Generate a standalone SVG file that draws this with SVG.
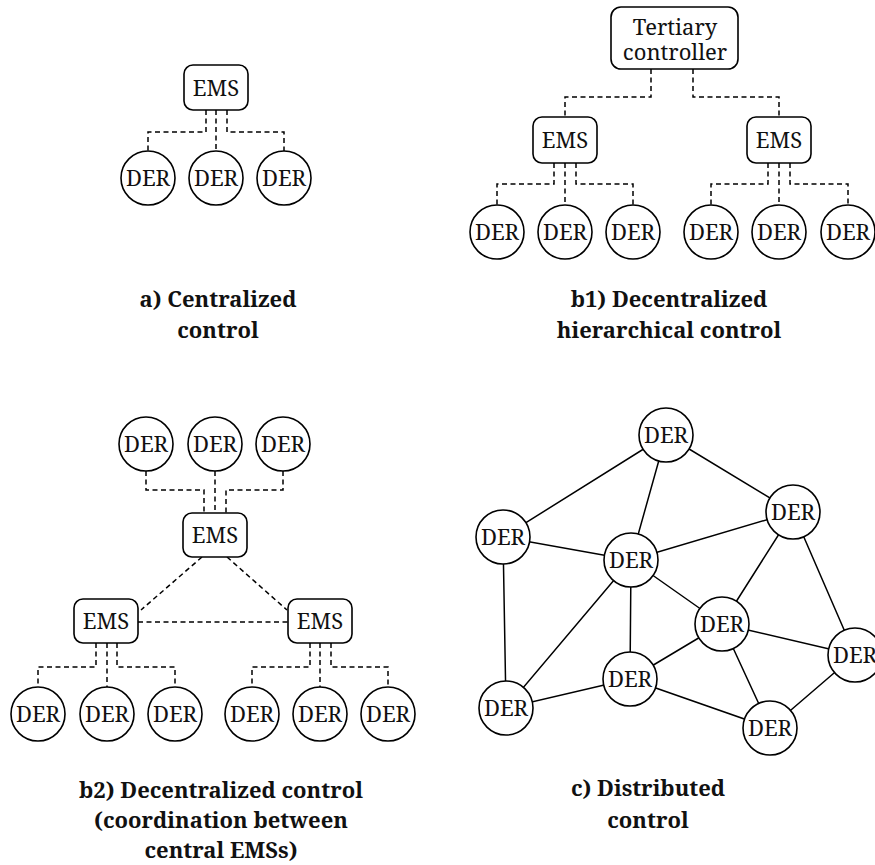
<svg xmlns="http://www.w3.org/2000/svg" width="875" height="865" viewBox="0 0 875 865">
  <style>
    .node rect, .node circle { fill: #fff; stroke: #000; stroke-width: 1.6; }
    .node text { font-family: "Noto Serif", "DejaVu Serif Condensed", "DejaVu Serif", serif; font-size: 22px; fill: #111; text-anchor: middle; }
    .dash { fill: none; stroke: #000; stroke-width: 1.5; stroke-dasharray: 5 3.5; }
    .solid { fill: none; stroke: #000; stroke-width: 1.5; }
    .caption { font-family: "Noto Serif", "DejaVu Serif Condensed", "DejaVu Serif", serif; font-size: 22px; font-weight: bold; fill: #111; text-anchor: middle; }
  </style>
  <rect width="875" height="865" fill="#fff"/>

  <!-- connectors -->
  <g id="connectors">
    <!-- a) centralized -->
    <path class="dash" d="M206 110 V132 H148 V151 M216 110 V151 M227 110 V132 H284 V151"/>
    <!-- b1) hierarchical -->
    <path class="dash" d="M651 69 V97 H565 V117 M693 69 V97 H779 V117"/>
    <path class="dash" d="M554 163 V184 H497 V205 M565 163 V205 M576 163 V184 H633 V205"/>
    <path class="dash" d="M768 163 V184 H711 V205 M779 163 V205 M790 163 V184 H848 V205"/>
    <!-- b2) coordinated EMSs -->
    <path class="dash" d="M146 471 V490 H204 V513 M215 471 V513 M283 471 V490 H226 V513"/>
    <path class="dash" d="M202 557 L141 610 M227 557 L287 610 M138 622 H288"/>
    <path class="dash" d="M96 643 V667 H38 V687 M107 643 V687 M117 643 V667 H175 V687"/>
    <path class="dash" d="M310 643 V667 H252 V687 M320 643 V687 M331 643 V667 H388 V687"/>
    <!-- c) distributed mesh -->
    <path class="solid" d="M666 435 L503 537 M666 435 L631 560 M666 435 L793 512 M503 537 L631 560 M503 537 L506 708 M631 560 L793 512 M631 560 L722 624 M631 560 L506 708 M631 560 L630 679 M793 512 L722 624 M793 512 L855 655 M722 624 L855 655 M722 624 L630 679 M722 624 L770 728 M630 679 L506 708 M630 679 L770 728 M855 655 L770 728"/>
  </g>

  <!-- a) centralized control -->
  <g id="a-ems" class="node"><rect x="184" y="65" width="64" height="45" rx="9"/><text x="216" y="96">EMS</text></g>
  <g id="a-der1" class="node"><circle cx="148" cy="178" r="27"/><text x="148" y="186">DER</text></g>
  <g id="a-der2" class="node"><circle cx="216" cy="178" r="27"/><text x="216" y="186">DER</text></g>
  <g id="a-der3" class="node"><circle cx="284" cy="178" r="27"/><text x="284" y="186">DER</text></g>

  <!-- b1) decentralized hierarchical control -->
  <g id="b1-tertiary" class="node"><rect x="611" y="7" width="127" height="62" rx="10"/><text x="675" y="35">Tertiary</text><text x="675" y="60">controller</text></g>
  <g id="b1-ems1" class="node"><rect x="533" y="117" width="64" height="46" rx="9"/><text x="565" y="148">EMS</text></g>
  <g id="b1-ems2" class="node"><rect x="747" y="117" width="64" height="46" rx="9"/><text x="779" y="148">EMS</text></g>
  <g id="b1-der1" class="node"><circle cx="497" cy="232" r="27"/><text x="497" y="240">DER</text></g>
  <g id="b1-der2" class="node"><circle cx="565" cy="232" r="27"/><text x="565" y="240">DER</text></g>
  <g id="b1-der3" class="node"><circle cx="633" cy="232" r="27"/><text x="633" y="240">DER</text></g>
  <g id="b1-der4" class="node"><circle cx="711" cy="232" r="27"/><text x="711" y="240">DER</text></g>
  <g id="b1-der5" class="node"><circle cx="779" cy="232" r="27"/><text x="779" y="240">DER</text></g>
  <g id="b1-der6" class="node"><circle cx="848" cy="232" r="27"/><text x="848" y="240">DER</text></g>

  <!-- b2) decentralized control with coordination between EMSs -->
  <g id="b2-der-top1" class="node"><circle cx="146" cy="444" r="27"/><text x="146" y="452">DER</text></g>
  <g id="b2-der-top2" class="node"><circle cx="215" cy="444" r="27"/><text x="215" y="452">DER</text></g>
  <g id="b2-der-top3" class="node"><circle cx="283" cy="444" r="27"/><text x="283" y="452">DER</text></g>
  <g id="b2-ems-top" class="node"><rect x="183" y="513" width="64" height="44" rx="9"/><text x="215" y="543">EMS</text></g>
  <g id="b2-ems-left" class="node"><rect x="74" y="599" width="64" height="44" rx="9"/><text x="106" y="629">EMS</text></g>
  <g id="b2-ems-right" class="node"><rect x="288" y="599" width="64" height="44" rx="9"/><text x="320" y="629">EMS</text></g>
  <g id="b2-der1" class="node"><circle cx="38" cy="714" r="27"/><text x="38" y="722">DER</text></g>
  <g id="b2-der2" class="node"><circle cx="107" cy="714" r="27"/><text x="107" y="722">DER</text></g>
  <g id="b2-der3" class="node"><circle cx="175" cy="714" r="27"/><text x="175" y="722">DER</text></g>
  <g id="b2-der4" class="node"><circle cx="252" cy="714" r="27"/><text x="252" y="722">DER</text></g>
  <g id="b2-der5" class="node"><circle cx="320" cy="714" r="27"/><text x="320" y="722">DER</text></g>
  <g id="b2-der6" class="node"><circle cx="388" cy="714" r="27"/><text x="388" y="722">DER</text></g>

  <!-- c) distributed control -->
  <g id="c-der-top" class="node"><circle cx="666" cy="435" r="27"/><text x="666" y="443">DER</text></g>
  <g id="c-der-left" class="node"><circle cx="503" cy="537" r="27"/><text x="503" y="545">DER</text></g>
  <g id="c-der-center" class="node"><circle cx="631" cy="560" r="27"/><text x="631" y="568">DER</text></g>
  <g id="c-der-upright" class="node"><circle cx="793" cy="512" r="27"/><text x="793" y="520">DER</text></g>
  <g id="c-der-midright" class="node"><circle cx="722" cy="624" r="27"/><text x="722" y="632">DER</text></g>
  <g id="c-der-farright" class="node"><circle cx="855" cy="655" r="27"/><text x="855" y="663">DER</text></g>
  <g id="c-der-lowmid" class="node"><circle cx="630" cy="679" r="27"/><text x="630" y="687">DER</text></g>
  <g id="c-der-lowleft" class="node"><circle cx="506" cy="708" r="27"/><text x="506" y="716">DER</text></g>
  <g id="c-der-bottom" class="node"><circle cx="770" cy="728" r="27"/><text x="770" y="736">DER</text></g>

  <!-- captions -->
  <text class="caption" x="218" y="307">a) Centralized</text>
  <text class="caption" x="218" y="338">control</text>
  <text class="caption" x="669" y="307">b1) Decentralized</text>
  <text class="caption" x="669" y="338">hierarchical control</text>
  <text class="caption" x="221" y="798">b2) Decentralized control</text>
  <text class="caption" x="221" y="828">(coordination between</text>
  <text class="caption" x="221" y="858">central EMSs)</text>
  <text class="caption" x="648" y="796">c) Distributed</text>
  <text class="caption" x="648" y="828">control</text>
</svg>
